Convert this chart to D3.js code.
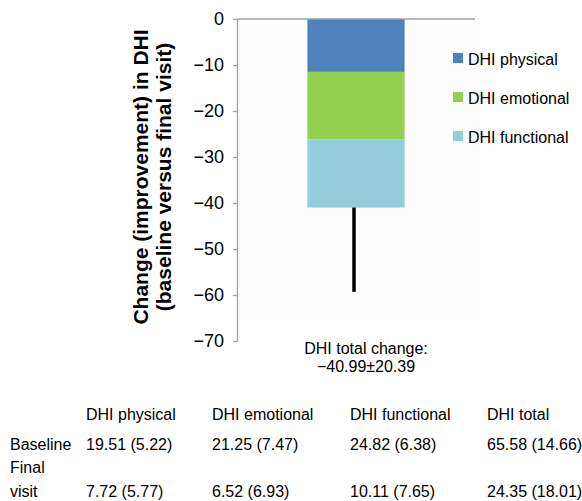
<!DOCTYPE html>
<html>
<head>
<meta charset="utf-8">
<script src="https://cdn.jsdelivr.net/npm/d3@7"></script>
<style>
  html, body { margin: 0; padding: 0; background: #fff; }
  svg { display: block; font-family: "Liberation Sans", Arial, sans-serif; }
</style>
</head>
<body>
<svg id="chart" width="582" height="501"></svg>
<script>
(function () {
  'use strict';

  var categories = ['DHI physical', 'DHI emotional', 'DHI functional'],
    changes = [-11.5, -14.65, -14.84],
    colors = ['#4f81bd', '#92d050', '#93cddd'],
    yTicks = [0, -10, -20, -30, -40, -50, -60, -70],
    errorEnd = -59.3,
    totalLabel = ['DHI total change:', '\u221240.99\u00b120.39'],
    tableColumns = ['DHI physical', 'DHI emotional', 'DHI functional', 'DHI total'],
    baselineRow = ['19.51 (5.22)', '21.25 (7.47)', '24.82 (6.38)', '65.58 (14.66)'],
    finalRow = ['7.72 (5.77)', '6.52 (6.93)', '10.11 (7.65)', '24.35 (18.01)'];

  var svg = d3.select('#chart'),
    y = d3.scaleLinear().domain([0, -70]).range([19, 341]),
    x = d3.scaleBand().domain(['total']).range([237, 475]).paddingInner(0.42).paddingOuter(0.42),
    stack = [],
    acc = 0,
    i;

  for (i = 0; i < changes.length; i++) {
    stack.push({ name: categories[i], y0: acc, y1: acc + changes[i], color: colors[i] });
    acc += changes[i];
  }

  // faint plot area
  svg.append('rect')
    .attr('x', 237).attr('y', 19)
    .attr('width', 243).attr('height', 301)
    .attr('fill', '#fdfdfd');

  // bars
  svg.selectAll('rect.seg').data(stack).enter()
    .append('rect')
    .attr('class', 'seg')
    .attr('x', x('total'))
    .attr('width', x.bandwidth())
    .attr('y', function (d) { return y(d.y0); })
    .attr('height', function (d) { return y(d.y1) - y(d.y0); })
    .attr('fill', function (d) { return d.color; });

  // error bar
  svg.append('line')
    .attr('x1', x('total') + x.bandwidth() / 2 - 2)
    .attr('x2', x('total') + x.bandwidth() / 2 - 2)
    .attr('y1', y(acc))
    .attr('y2', y(errorEnd))
    .attr('stroke', '#000')
    .attr('stroke-width', 3.5);

  // y axis
  var yAxis = svg.append('g')
    .attr('transform', 'translate(237,0)')
    .call(d3.axisLeft(y).tickValues(yTicks).tickSize(4).tickSizeOuter(0).tickPadding(9)
      .tickFormat(function (d) { return d === 0 ? '0' : '\u2212' + Math.abs(d); }));
  yAxis.select('.domain').attr('stroke', '#a0a0a0').attr('stroke-width', 1.3);
  yAxis.selectAll('.tick line').attr('stroke', '#a0a0a0').attr('stroke-width', 1.3);
  yAxis.selectAll('.tick text')
    .attr('font-size', 18)
    .attr('font-family', '"Liberation Sans", Arial, sans-serif')
    .attr('fill', '#000');

  // zero line
  svg.append('line')
    .attr('x1', 237).attr('x2', 475)
    .attr('y1', y(0)).attr('y2', y(0))
    .attr('stroke', '#a0a0a0').attr('stroke-width', 1.3);

  // axis title
  svg.append('text')
    .attr('transform', 'translate(148,177) rotate(-90)')
    .attr('text-anchor', 'middle')
    .attr('font-size', 21)
    .attr('font-weight', 'bold')
    .text('Change (improvement) in DHI');
  svg.append('text')
    .attr('transform', 'translate(171,177) rotate(-90)')
    .attr('text-anchor', 'middle')
    .attr('font-size', 21)
    .attr('font-weight', 'bold')
    .text('(baseline versus final visit)');

  // legend
  var legend = svg.selectAll('g.legend').data(stack).enter()
    .append('g')
    .attr('class', 'legend')
    .attr('transform', function (d, i) { return 'translate(453,' + (53 + i * 39) + ')'; });
  legend.append('rect')
    .attr('width', 10).attr('height', 10)
    .attr('fill', function (d) { return d.color; });
  legend.append('text')
    .attr('x', 15).attr('y', 12)
    .attr('font-size', 16)
    .text(function (d) { return d.name; });

  // total change label
  svg.selectAll('text.total').data(totalLabel).enter()
    .append('text')
    .attr('class', 'total')
    .attr('x', 366)
    .attr('y', function (d, i) { return 354 + i * 18; })
    .attr('text-anchor', 'middle')
    .attr('font-size', 16)
    .text(function (d) { return d; });

  // table below
  var colX = [86, 212, 350, 487];
  svg.selectAll('text.colhead').data(tableColumns).enter()
    .append('text')
    .attr('class', 'colhead')
    .attr('x', function (d, i) { return colX[i]; })
    .attr('y', 420)
    .attr('font-size', 16)
    .text(function (d) { return d; });

  svg.selectAll('text.base').data(baselineRow).enter()
    .append('text')
    .attr('class', 'base')
    .attr('x', function (d, i) { return colX[i]; })
    .attr('y', 450)
    .attr('font-size', 16)
    .text(function (d) { return d; });

  svg.selectAll('text.final').data(finalRow).enter()
    .append('text')
    .attr('class', 'final')
    .attr('x', function (d, i) { return colX[i]; })
    .attr('y', 497)
    .attr('font-size', 16)
    .text(function (d) { return d; });

  svg.append('text').attr('x', 10).attr('y', 450).attr('font-size', 16).text('Baseline');
  svg.append('text').attr('x', 10).attr('y', 473).attr('font-size', 16).text('Final');
  svg.append('text').attr('x', 10).attr('y', 497).attr('font-size', 16).text('visit');
})();
</script>
</body>
</html>
